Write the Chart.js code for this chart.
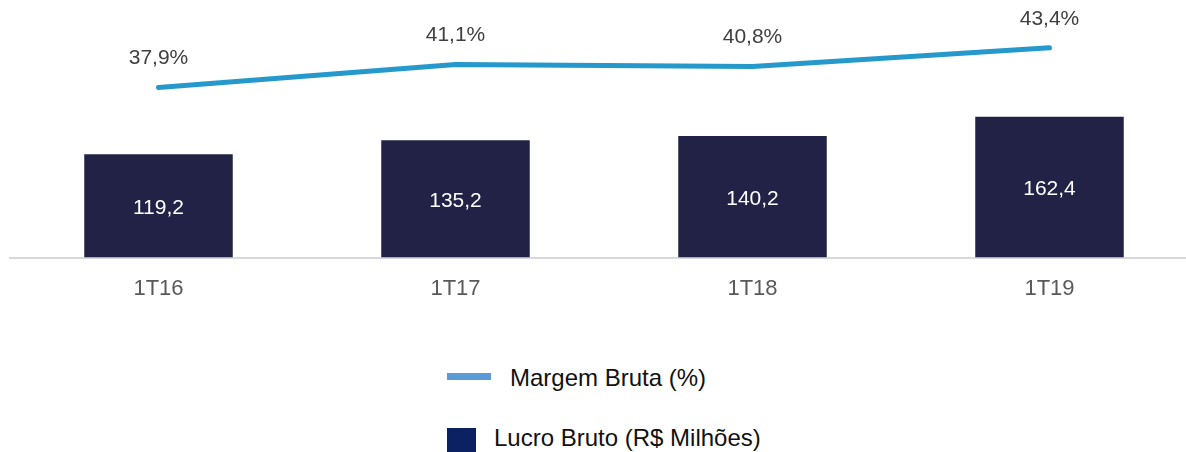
<!DOCTYPE html>
<html lang="pt">
    <head>
        <meta charset="UTF-8" />
        <title>Lucro Bruto e Margem Bruta</title>
        <script src="https://cdn.jsdelivr.net/npm/chart.js@4"></script>
        <style>
            body { margin: 0; overflow: hidden; background: #fff; font-family: 'Liberation Sans', Arial, sans-serif; }
            #wrap { position: relative; width: 1186px; height: 452px; overflow: hidden; }
            #myChart { position: absolute; left: 0; top: 0; }
            .leg { position: absolute; font-size: 24px; color: #111; white-space: nowrap; line-height: 28px; }
            .sw { position: absolute; }
        </style>
    </head>
    <body>
        <div id="wrap">
            <canvas id="myChart" width="1200" height="320"></canvas>
            <div class="sw" style="left:447px;top:373px;width:44px;height:7px;background:#5b9bd5"></div>
            <div class="leg" style="left:510px;top:364px">Margem Bruta (%)</div>
            <div class="sw" style="left:447px;top:428px;width:29px;height:29px;background:#0b2161"></div>
            <div class="leg" style="left:494px;top:424px">Lucro Bruto (R$ Milhões)</div>
        </div>
        <script>
            // data
            const periods = ['1T16', '1T17', '1T18', '1T19'];
            const lucroBruto = [119.2, 135.2, 140.2, 162.4];
            const margemBruta = [37.9, 41.1, 40.8, 43.4];

            const fmt = (v, d) => v.toFixed(d).replace('.', ',');

            // draws the value labels on bars and line points
            const valueLabels = {
                id: 'valueLabels',
                afterDatasetsDraw(chart) {
                    const ctx = chart.ctx;
                    ctx.save();
                    ctx.textAlign = 'center';
                    ctx.textBaseline = 'middle';
                    const barMeta = chart.getDatasetMeta(1);
                    ctx.font = '21px "Liberation Sans", Arial';
                    ctx.fillStyle = '#ffffff';
                    barMeta.data.forEach((bar, i) => {
                        ctx.fillText(fmt(lucroBruto[i], 1), bar.x, (bar.y + bar.base) / 2 + 2);
                    });
                    const lineMeta = chart.getDatasetMeta(0);
                    ctx.fillStyle = '#404040';
                    lineMeta.data.forEach((pt, i) => {
                        ctx.fillText(fmt(margemBruta[i], 1) + '%', pt.x, pt.y - 29);
                    });
                    ctx.restore();
                }
            };

            const ctx = document.getElementById('myChart').getContext('2d');
            const myChart = new Chart(ctx, {
                type: 'bar',
                data: {
                    labels: periods,
                    datasets: [
                        {
                            type: 'line',
                            label: 'Margem Bruta (%)',
                            data: margemBruta,
                            yAxisID: 'y1',
                            borderColor: '#2599cb',
                            borderWidth: 5,
                            borderCapStyle: 'round',
                            pointRadius: 0,
                            tension: 0,
                            fill: false
                        },
                        {
                            label: 'Lucro Bruto (R$ Milhões)',
                            data: lucroBruto,
                            yAxisID: 'y',
                            backgroundColor: '#212245',
                            categoryPercentage: 1,
                            barPercentage: 0.5
                        }
                    ]
                },
                options: {
                    responsive: false,
                    animation: false,
                    layout: { padding: { left: 10, right: 2, top: 10, bottom: 0 } },
                    plugins: {
                        legend: { display: false },
                        tooltip: { enabled: false }
                    },
                    scales: {
                        x: {
                            grid: { display: false, drawTicks: false },
                            border: { display: true, color: '#d9d9d9', width: 2 },
                            ticks: {
                                color: '#595959',
                                padding: 18,
                                font: { family: '"Liberation Sans", Arial', size: 22 }
                            }
                        },
                        y: { display: false, min: 0, max: 285.4 },
                        y1: { display: false, position: 'right', min: 14.31, max: 48.65 }
                    }
                },
                plugins: [valueLabels]
            });
        </script>
    </body>
</html>
